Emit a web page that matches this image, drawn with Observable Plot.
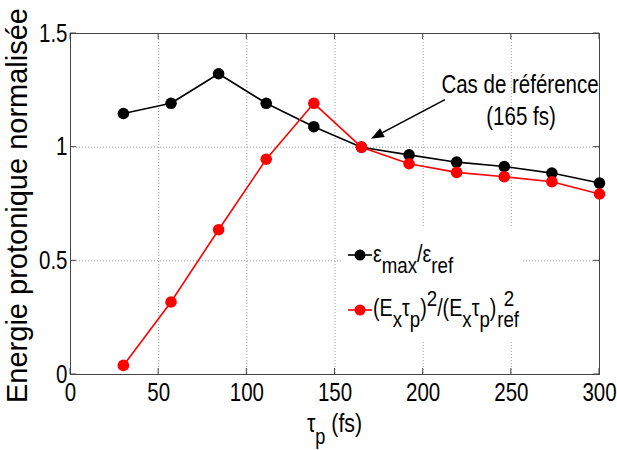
<!DOCTYPE html>
<html><head><meta charset="utf-8">
<script src="https://cdn.jsdelivr.net/npm/d3@7"></script>
<script src="https://cdn.jsdelivr.net/npm/@observablehq/plot@0.6"></script>
<style>body{margin:0;background:#fff} #chart{width:617px;height:450px}</style>
</head><body><div id="chart"></div>
<script>
// ---- data ----
const tau = [30, 57, 84, 111, 138, 165, 192, 219, 246, 273, 300];
const epsRatio = [1.148, 1.193, 1.323, 1.193, 1.090, 1.000, 0.966, 0.934, 0.915, 0.886, 0.842];
const fieldRatio = [0.040, 0.319, 0.637, 0.947, 1.193, 1.000, 0.927, 0.889, 0.870, 0.848, 0.794];
const xTicks = [0, 50, 100, 150, 200, 250, 300];
const yTicks = [0, 0.5, 1, 1.5];
const yTickLabels = ["0", "0.5", "1", "1.5"];
const seriesColors = ["#000000", "#ff0000"];
const annotationLines = ["Cas de référence", "(165 fs)"];
const refTau = 165, refValue = 1;
const yLabel = "Energie protonique normalisée";

const font = "'Liberation Sans',Arial,sans-serif";
const SX = 0.82; // horizontal condensing (MATLAB narrow look)
const frameColor = "#444";
const gridStyle = {stroke: "#9a9a9a", strokeOpacity: 1, strokeDasharray: "1,2", strokeWidth: 1};

const plot = Plot.plot({
  width: 617, height: 450,
  marginLeft: 70, marginRight: 18, marginTop: 33, marginBottom: 76,
  x: {domain: [0, 300]},
  y: {domain: [0, 1.5]},
  style: {fontFamily: font, background: "white", color: "black"},
  marks: [
    Plot.gridX(xTicks.slice(1, -1), gridStyle),
    Plot.gridY(yTicks.slice(1, -1), gridStyle),
    Plot.axisX(xTicks, {tickSize: 0, tickPadding: 9, fontSize: 25, label: null, fill: "black", tickFormat: d => String(d)}),
    Plot.axisY(yTicks, {tickSize: 0, tickPadding: 3, fontSize: 25, label: null, fill: "black", tickFormat: d => yTickLabels[yTicks.indexOf(d)]}),
    Plot.frame({stroke: frameColor, strokeWidth: 1}),
    Plot.line(tau, {x: tau, y: epsRatio, stroke: seriesColors[0], strokeWidth: 1.6}),
    Plot.dot(tau, {x: tau, y: epsRatio, r: 5.8, fill: seriesColors[0], stroke: "none"}),
    Plot.line(tau, {x: tau, y: fieldRatio, stroke: seriesColors[1], strokeWidth: 1.6}),
    Plot.dot(tau, {x: tau, y: fieldRatio, r: 5.8, fill: seriesColors[1], stroke: "none"})
  ]
});
document.getElementById("chart").appendChild(plot);

const xs = plot.scale("x"), ys = plot.scale("y");
const X = v => xs.apply(v), Y = v => ys.apply(v);
const svg = d3.select(plot);
const x0 = X(0), x1 = X(300), y0 = Y(0), y1 = Y(1.5);

// condense axis tick labels horizontally around their anchor
svg.selectAll("[aria-label='x-axis tick label'] text, [aria-label='y-axis tick label'] text").each(function () {
  const el = d3.select(this);
  const tr = el.attr("transform");
  if (tr) {
    el.attr("transform", tr + ` scale(${SX},1)`);
  } else {
    const x = +el.attr("x") || 0, y = +el.attr("y") || 0;
    el.attr("x", null).attr("y", null).attr("transform", `translate(${x},${y}) scale(${SX},1)`);
  }
});

// inward ticks (MATLAB style)
const tk = svg.append("g").attr("stroke", frameColor).attr("stroke-width", 1);
xTicks.forEach(t => {
  tk.append("line").attr("x1", X(t)).attr("x2", X(t)).attr("y1", y0).attr("y2", y0 - 6);
  tk.append("line").attr("x1", X(t)).attr("x2", X(t)).attr("y1", y1).attr("y2", y1 + 6);
});
yTicks.forEach(t => {
  tk.append("line").attr("y1", Y(t)).attr("y2", Y(t)).attr("x1", x0).attr("x2", x0 + 6);
  tk.append("line").attr("y1", Y(t)).attr("y2", Y(t)).attr("x1", x1).attr("x2", x1 - 6);
});

// condensed rich text: parts = [[text, mode, dx]], mode 0 | "sub" | "sup"
function rich(parent, x, y, parts, size, anchor, subScale = 0.85) {
  const g = parent.append("g").attr("transform", `translate(${x},${y}) scale(${SX},1)`);
  const t = g.append("text").attr("font-family", font).attr("font-size", size)
    .attr("fill", "black").attr("text-anchor", anchor || "start");
  let cur = 0;
  parts.forEach(([s, m, dx]) => {
    const target = m === "sub" ? size * 0.45 : m === "sup" ? -size * 0.42 : 0;
    const ts = t.append("tspan").attr("dy", target - cur).attr("font-size", m ? size * subScale : size).text(s);
    if (dx) ts.attr("dx", dx);
    cur = target;
  });
  return {g, t};
}

// axis labels
svg.append("text").attr("transform", `translate(27,${(y0 + y1) / 2 + 2}) rotate(-90)`)
  .attr("text-anchor", "middle").attr("font-family", font).attr("font-size", 29)
  .attr("fill", "black").text(yLabel);
rich(svg, (x0 + x1) / 2, 432, [["τ", 0], ["p", "sub"], [" (fs)", 0]], 26, "middle");

// annotation
rich(svg, 520, 93, [[annotationLines[0], 0]], 25, "middle");
rich(svg, 521, 125, [[annotationLines[1], 0]], 25, "middle");
const tipX = X(refTau) + 10, tipY = Y(refValue) - 8;
const sX = tipX + 74, sY = tipY - 39;
const ang = Math.atan2(sY - tipY, sX - tipX);
const hl = 13, hw = 5;
const bx = tipX + hl * Math.cos(ang), by = tipY + hl * Math.sin(ang);
svg.append("line").attr("x1", sX).attr("y1", sY).attr("x2", bx).attr("y2", by)
  .attr("stroke", "black").attr("stroke-width", 1.6);
svg.append("path").attr("fill", "black").attr("d",
  `M${tipX},${tipY}L${bx - hw * Math.sin(ang)},${by + hw * Math.cos(ang)}L${bx + hw * Math.sin(ang)},${by - hw * Math.cos(ang)}Z`);

// legend
const lg = svg.append("g");
lg.append("rect").attr("x", 342).attr("y", 228).attr("width", 181).attr("height", 112).attr("fill", "white");
const rowsY = [255, 310];
rowsY.forEach((ry, i) => {
  lg.append("line").attr("x1", 348).attr("x2", 372).attr("y1", ry).attr("y2", ry)
    .attr("stroke", seriesColors[i]).attr("stroke-width", 1.6);
  lg.append("circle").attr("cx", 360).attr("cy", ry).attr("r", 5.5).attr("fill", seriesColors[i]);
});
const LS = 24, SS = 0.95;
const twoW = LS * SS * 0.556;
rich(lg, 373, 262, [["ε", 0], ["max", "sub"], ["/ε", 0], ["ref", "sub"]], LS, "start", SS);
rich(lg, 373, 316, [["(E", 0], ["x", "sub"], ["τ", 0], ["p", "sub"], [")", 0], ["2", "sup"],
  ["/(E", 0], ["x", "sub"], ["τ", 0], ["p", "sub"], [")", 0], ["2", "sup", 9], ["ref", "sub", -(9 + twoW) + 1]], LS, "start", SS);
</script>
</body></html>
